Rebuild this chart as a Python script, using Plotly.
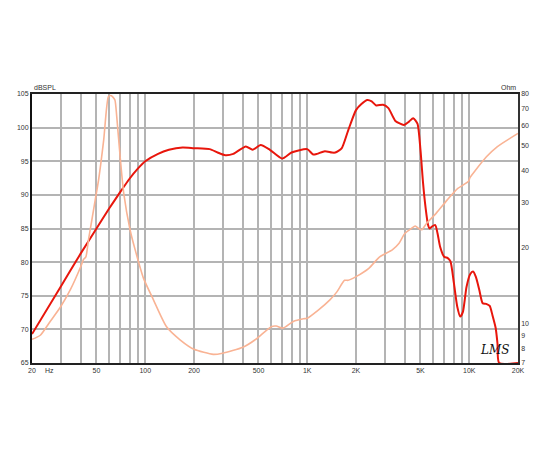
import plotly.graph_objects as go
import numpy as np

# SPL response (dB)
spl_freq = [20, 30, 40, 50, 60, 70, 80, 90, 100, 120, 140, 170, 200, 250, 280, 312, 350,
            418, 460, 516, 588, 700, 800, 1000, 1088, 1150, 1284, 1420, 1490, 1630, 1790,
            2000, 2160, 2350, 2500, 2665, 2940, 3170, 3500, 3950, 4250, 4510, 4790, 5000,
            5190, 5370, 5560, 5700, 5890, 6170, 6370, 6610, 7000, 7370, 7660, 8040, 8430,
            8800, 9140, 9620, 10130, 10560, 10990, 11530, 12100, 12730, 13380, 13910,
            14560, 14940, 15300, 20000]
spl_db = [69.3, 76.3, 81.3, 85.0, 88.0, 90.4, 92.4, 93.9, 95.0, 96.1, 96.7, 97.05, 96.95,
          96.8, 96.3, 95.9, 96.1, 97.2, 96.7, 97.4, 96.7, 95.4, 96.3, 96.8, 96.0, 96.1,
          96.5, 96.3, 96.3, 96.9, 99.6, 102.6, 103.5, 104.1, 103.9, 103.3, 103.4, 102.9,
          101.0, 100.4, 100.9, 101.4, 100.6, 96.7, 91.7, 88.2, 85.6, 85.0, 85.3, 85.5,
          84.3, 82.3, 80.8, 80.6, 80.1, 76.9, 73.4, 71.9, 72.6, 76.3, 78.2, 78.6, 77.8,
          75.9, 73.9, 73.8, 73.5, 72.1, 70.2, 67.9, 65.0, 65.0]

# impedance (Ohm)
imp_freq = [20, 22.5, 25.9, 29.9, 34.5, 39.9, 41.6, 43, 44.6, 46.8, 49.1, 51.5, 55.4, 59.2,
            61, 63, 65, 66.7, 70, 73.7, 80.7, 86.7, 97.5, 112.4, 135.4, 164.7, 200, 263,
            300, 401, 482, 600, 644, 709, 820, 948, 1000, 1170, 1380, 1520, 1700, 1790,
            2000, 2400, 2800, 3350, 3690, 4000, 4400, 4640, 4900, 5100, 5460, 6260, 7300,
            8500, 9900, 10100, 10960, 12770, 14860, 20000]
imp_ohm = [8.67, 9.0, 10.2, 11.6, 13.6, 16.7, 17.9, 18.3, 21.3, 25.5, 30.6, 36.7, 52.7, 78,
           78.9, 78.0, 75.7, 65.2, 45.3, 32.5, 23.3, 19.5, 15.1, 12.4, 9.72, 8.62, 7.93,
           7.57, 7.65, 8.07, 8.68, 9.73, 9.78, 9.6, 10.2, 10.45, 10.5, 11.3, 12.4, 13.3,
           14.8, 14.8, 15.3, 16.5, 18.3, 19.5, 20.7, 22.6, 23.7, 24.2, 23.6, 23.4, 24.8,
           27.2, 30.6, 34.0, 36.3, 37.5, 40.2, 45.3, 49.6, 56]

x_grid = [20, 30, 40, 50, 60, 70, 80, 90, 100, 200, 300, 400, 500, 600, 700, 800, 900,
          1000, 2000, 3000, 4000, 5000, 6000, 7000, 8000, 9000, 10000, 20000]
x_labels = {20: "20", 50: "50", 100: "100", 200: "200", 500: "500", 1000: "1K",
            2000: "2K", 5000: "5K", 10000: "10K", 20000: "20K"}
db_ticks = [65, 70, 75, 80, 85, 90, 95, 100, 105]
ohm_ticks = [7, 8, 9, 10, 20, 30, 40, 50, 60, 70, 80]

tick_font = dict(family="Liberation Sans, Arial", size=7, color="#333333")

fig = go.Figure()
fig.add_trace(go.Scatter(x=imp_freq, y=imp_ohm, yaxis="y2", mode="lines",
                         line=dict(color="#f9b394", width=1.6, shape="spline", smoothing=0.6),
                         showlegend=False))
fig.add_trace(go.Scatter(x=spl_freq, y=spl_db, mode="lines",
                         line=dict(color="#e8160c", width=2, shape="spline", smoothing=0.6),
                         showlegend=False))

# page body adds an 8px offset, so the figure is made 8px smaller
fig.update_layout(
    width=542, height=442,
    margin=dict(l=24, r=32, t=86, b=87, autoexpand=False),
    paper_bgcolor="white", plot_bgcolor="white",
    xaxis=dict(type="log", range=[np.log10(20), np.log10(20000)],
               tickvals=x_grid, ticktext=[x_labels.get(v, "") for v in x_grid],
               showgrid=True, gridcolor="#b4b4b4", gridwidth=1.5,
               showline=True, linecolor="#222222", linewidth=2, mirror=True,
               ticks="", tickfont=tick_font, zeroline=False, automargin=False),
    yaxis=dict(range=[65, 105], tickvals=db_ticks,
               showgrid=True, gridcolor="#b4b4b4", gridwidth=1.5,
               showline=True, linecolor="#111111", linewidth=2,
               ticks="", tickfont=tick_font, zeroline=False, automargin=False),
    yaxis2=dict(type="log", range=[np.log10(7), np.log10(80)], overlaying="y", side="right",
                tickvals=ohm_ticks, ticktext=[str(v) for v in ohm_ticks],
                showgrid=False, showline=True, linecolor="#333333", linewidth=1.5,
                ticks="", tickfont=tick_font, zeroline=False, automargin=False),
)

fig.add_annotation(text="dBSPL", xref="paper", yref="paper", x=0, y=1, xanchor="left",
                   yanchor="bottom", showarrow=False, font=tick_font, yshift=1)
fig.add_annotation(text="Ohm", xref="paper", yref="paper", x=1, y=1, xanchor="right",
                   yanchor="bottom", showarrow=False, font=tick_font, yshift=1)
fig.add_annotation(text="Hz", xref="paper", yref="paper", x=0.023, y=0, xanchor="left",
                   yanchor="top", showarrow=False, font=tick_font, yshift=-2)
fig.add_annotation(text="<i>LMS</i>", xref="paper", yref="paper", x=0.985, y=0.015,
                   xanchor="right", yanchor="bottom", showarrow=False,
                   font=dict(family="DejaVu Serif", size=12, color="#111111"))

fig.write_html("out.html")
